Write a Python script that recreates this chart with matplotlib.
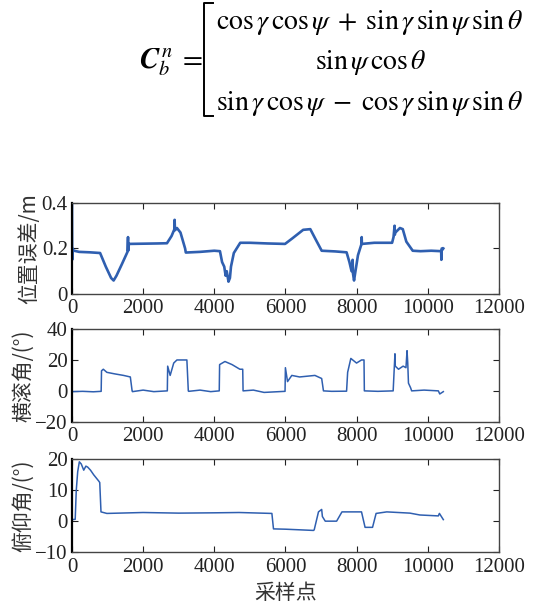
import matplotlib
matplotlib.use('Agg')
import matplotlib.pyplot as plt
from matplotlib.lines import Line2D

plt.rcParams['font.family'] = ['Liberation Serif', 'Noto Sans CJK SC']
plt.rcParams['mathtext.fontset'] = 'stix'

# position error
pos_x = [0, 5, 10, 20, 60, 200, 500, 790, 950, 1100, 1170, 1250, 1400, 1560, 1575,
         1580, 1600, 2000, 2400, 2670, 2800, 2880, 2885, 2895, 2950, 3050, 3180, 3200,
         3600, 4000, 4160, 4220, 4280, 4320, 4350, 4400, 4440, 4470, 4550, 4730, 5000,
         5500, 5990, 6200, 6500, 6700, 6850, 7020, 7400, 7720, 7800, 7860, 7890, 7900,
         7930, 7960, 8040, 8140, 8145, 8150, 8500, 9000, 9040, 9070, 9075, 9090, 9220,
         9300, 9400, 9580, 9800, 10100, 10380, 10385, 10395, 10420, 10440]
pos_y = [0.4, 0.15, 0.2, 0.195, 0.19, 0.185, 0.183, 0.18, 0.12, 0.07, 0.059, 0.08,
         0.13, 0.185, 0.25, 0.19, 0.22, 0.221, 0.222, 0.223, 0.255, 0.285, 0.326, 0.28,
         0.29, 0.27, 0.2, 0.182, 0.185, 0.19, 0.188, 0.14, 0.12, 0.08, 0.1, 0.054, 0.07,
         0.12, 0.18, 0.225, 0.225, 0.222, 0.22, 0.245, 0.282, 0.285, 0.24, 0.19, 0.187,
         0.183, 0.14, 0.1, 0.15, 0.09, 0.059, 0.09, 0.17, 0.22, 0.25, 0.22, 0.225, 0.225,
         0.25, 0.3, 0.26, 0.27, 0.29, 0.285, 0.23, 0.19, 0.188, 0.19, 0.188, 0.15, 0.2,
         0.195, 0.2]

# roll
roll_x = [0, 300, 600, 820, 830, 880, 980, 1200, 1450, 1640, 1690, 1700, 2000, 2300,
          2680, 2690, 2760, 2860, 2950, 3230, 3270, 3280, 3600, 3900, 4140, 4150, 4300,
          4500, 4720, 4800, 4810, 5100, 5400, 5990, 6000, 6060, 6180, 6400, 6830, 7020,
          7070, 7300, 7720, 7750, 7840, 8000, 8140, 8210, 8220, 8600, 9030, 9080, 9090,
          9180, 9310, 9390, 9420, 9440, 9460, 9520, 9550, 9900, 10300, 10340, 10440]
roll_y = [-0.5, -0.3, -0.6, -0.3, 13, 14, 12, 11, 10, 9, 0, -0.5, 0.5, -0.5, 0, 16, 10,
          18, 20, 20, 0, -0.3, 0.5, -0.5, 0, 17, 19, 17, 14, 14, 0, 0.5, -1, -0.3, 15, 6,
          10, 9, 10, 8, 0, -0.3, -0.2, 12, 21, 18, 20, 20, 0, -0.3, 0, 24, 16, 14, 16, 15,
          26, 18, 5, 2, 0, 0.5, 0, -2, -0.5]

# pitch
pitch_x = [0, 90, 120, 160, 206, 260, 330, 390, 440, 520, 610, 750, 780, 815, 980,
           2000, 3000, 4000, 4700, 5620, 5665, 6000, 6400, 6790, 6810, 6930, 7020, 7040,
           7120, 7440, 7590, 8140, 8240, 8450, 8550, 8850, 9500, 9780, 10300, 10330,
           10440]
pitch_y = [0.5, 0.6, 10, 16, 19.2, 18.5, 16.5, 17.8, 17.5, 16.5, 15, 13, 12.5, 3, 2.5,
           2.8, 2.6, 2.7, 2.8, 2.5, -2.5, -2.6, -2.8, -3, -2.8, 3, 3.8, 1.5, 0, 0, 3, 3,
           -2, -2, 2.5, 3, 2.6, 2, 1.7, 2.5, 0.5]

xticks = [0, 2000, 4000, 6000, 8000, 10000, 12000]
blue = '#2f5fb0'

fig = plt.figure(figsize=(5.43, 6.06), dpi=100)

# formula
fs = 20
fig.text(0.315, 0.897, r'$\mathbfit{C}_b^{\,n}\;=$', fontsize=fs + 1, ha='center', va='center')
fig.text(0.398, 0.963,
         r'$\cos\gamma\,\cos\psi\;+\;\sin\gamma\,\sin\psi\,\sin\theta$',
         fontsize=fs, ha='left', va='center')
fig.text(0.683, 0.897, r'$\sin\psi\,\cos\theta$', fontsize=fs, ha='center', va='center')
fig.text(0.398, 0.830,
         r'$\sin\gamma\,\cos\psi\;-\;\cos\gamma\,\sin\psi\,\sin\theta$',
         fontsize=fs, ha='left', va='center')
bx = 0.376
fig.add_artist(Line2D([bx + 0.016, bx, bx, bx + 0.016], [0.995, 0.995, 0.808, 0.808],
                      transform=fig.transFigure, color='black', lw=1.4))

specs = [
    (pos_x, pos_y, [0.1326, 0.515, 0.786, 0.150], (0, 0.4), [0, 0.2, 0.4],
     ['0', '0.2', '0.4'], '位置误差/m', 1.9),
    (roll_x, roll_y, [0.1326, 0.304, 0.786, 0.153], (-20, 40), [-20, 0, 20, 40],
     ['−20', '0', '20', '40'], '横滚角/(°)', 1.1),
    (pitch_x, pitch_y, [0.1326, 0.089, 0.786, 0.153], (-10, 20), [-10, 0, 10, 20],
     ['−10', '0', '10', '20'], '俯仰角/(°)', 1.1),
]

for x, y, rect, ylim, yt, ytl, ylab, lw in specs:
    ax = fig.add_axes(rect)
    ax.plot(x, y, color=blue, lw=lw)
    ax.set_xlim(0, 12000)
    ax.set_ylim(*ylim)
    ax.set_xticks(xticks)
    ax.set_yticks(yt)
    ax.set_yticklabels(ytl)
    ax.tick_params(direction='in', top=True, right=True, labelsize=15, length=4,
                   colors='#222222')
    ax.tick_params(axis='x', pad=4)
    ax.tick_params(axis='y', pad=3)
    for s in ax.spines.values():
        s.set_color('#444444')
        s.set_linewidth(1.0)
    ax.spines['left'].set_color('black')
    ax.spines['left'].set_linewidth(1.6)
    ax.set_ylabel(ylab, fontsize=15, family=['Noto Sans CJK SC'], color='#333333',
                  labelpad=1)

ax.set_xlabel('采样点', fontsize=15, family=['Noto Sans CJK SC'], color='#333333',
              labelpad=4)

fig.savefig('out.png', dpi=100)
